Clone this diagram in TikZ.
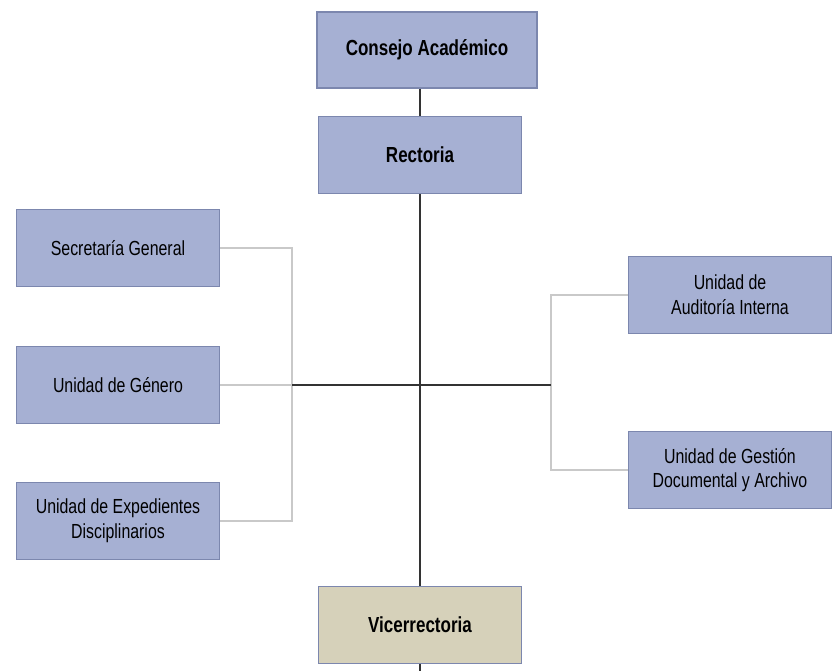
\documentclass[tikz,border=0pt]{standalone}
\usepackage{fontspec}
\setmainfont{Liberation Sans}[FakeStretch=0.78]
\usetikzlibrary{positioning}
\definecolor{cajaazul}{HTML}{A6B0D3}
\definecolor{bordeazul}{HTML}{7C87AE}
\definecolor{cajabeige}{HTML}{D6D1BA}
\definecolor{lineagris}{HTML}{C9C9C9}
\tikzset{
  caja/.style={draw=bordeazul, line width=0.8pt, fill=cajaazul, minimum width=5.075cm,
    minimum height=1.925cm, align=center, inner sep=2pt,
    font=\fontsize{14.5pt}{17.5pt}\selectfont},
  cajafuerte/.style={caja, font=\fontsize{15.5pt}{18pt}\selectfont\bfseries},
  lineanegra/.style={draw=black!80, line width=1.3pt},
  lineaclara/.style={draw=lineagris, line width=1.3pt}
}
\begin{document}
\begin{tikzpicture}[x=0.025cm, y=-0.025cm]
        \useasboundingbox (0,0) rectangle (836,671);

        % Direccion superior
        \node[cajafuerte, minimum width=5.5cm, minimum height=1.9cm] (consejo) at (427,50) {Consejo Académico};
        \node[cajafuerte] (rectoria) at (420,155) {Rectoria};
        \node[cajafuerte, fill=cajabeige] (vice) at (420,625) {Vicerrectoria};

        % Unidades de la izquierda
        \node[caja] (secretaria) at (118,248) {Secretaría General};
        \node[caja] (genero) at (118,385) {Unidad de Género};
        \node[caja] (expedientes) at (118,521) {Unidad de Expedientes\\Disciplinarios};

        % Unidades de la derecha
        \node[caja] (auditoria) at (730,295) {Unidad de\\Auditoría Interna};
        \node[caja] (gestion) at (730,470) {Unidad de Gestión\\Documental y Archivo};

        % Puntos de union
        \coordinate (ramaizq) at (292,385);
        \coordinate (ramader) at (551,385);
        \coordinate (fin) at (420,671);

        % Lineas grises de las unidades
        \draw[lineaclara] (secretaria.east) -| (ramaizq) |- (expedientes.east);
        \draw[lineaclara] (genero.east) -- (ramaizq);
        \draw[lineaclara] (auditoria.west) -| (ramader) |- (gestion.west);

        % Eje principal
        \draw[lineanegra] (consejo.south -| rectoria.north) -- (rectoria.north);
        \draw[lineanegra] (rectoria.south) -- (vice.north);
        \draw[lineanegra] (vice.south) -- (fin);
        \draw[lineanegra] (ramaizq) -- (ramader);
\end{tikzpicture}
\end{document}
